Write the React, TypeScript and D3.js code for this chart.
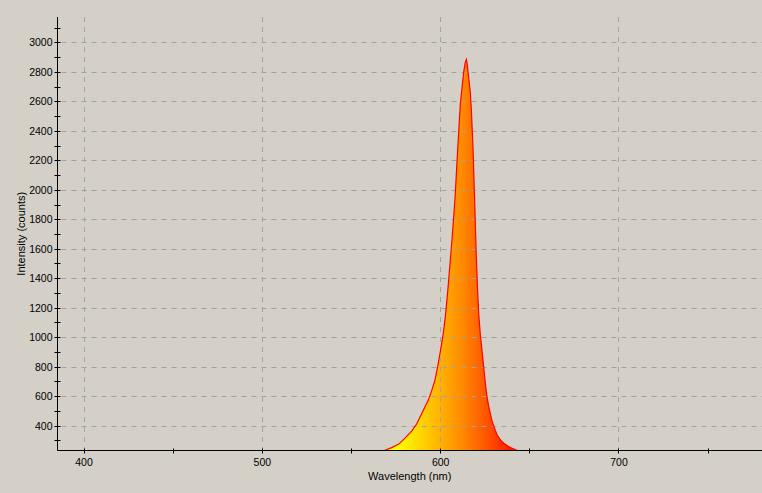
import React, { useEffect, useRef } from "react";
import * as d3 from "d3";

// spectrum (wavelength in nm, intensity in counts)
const wavelengths = [
  568.7, 572.8, 576.6, 580.3, 584.0, 586.8, 589.6, 593.4, 595.2, 597.1, 598.6,
  600.5, 601.8, 602.9, 603.9, 604.8, 605.7, 606.7, 607.6, 608.5, 609.3, 610.4,
  611.3, 612.3, 613.2, 614.1, 614.7, 615.1, 616.0, 616.9, 617.5, 618.4, 619.0,
  619.7, 620.3, 621.0, 621.6, 622.5, 623.5, 624.4, 625.3, 626.2, 627.2, 628.1,
  629.1, 630.0, 630.9, 631.9, 633.7, 635.6, 638.4, 641.2, 643.3,
];
const intensities = [
  230, 250, 272, 314, 362, 410, 480, 574, 635, 710, 800,
  930, 1030, 1139, 1265, 1390, 1524, 1672, 1818, 1975, 2160, 2395,
  2580, 2700, 2800, 2865, 2885, 2858, 2760, 2660, 2540, 2290, 2060,
  1780, 1530, 1320, 1160, 1020, 905, 800, 690, 600, 532, 482,
  430, 400, 368, 337, 303, 280, 257, 241, 230,
];

const yMajorTicks = d3.range(400, 3001, 200);
const yMinorTicks = d3.range(300, 3101, 200);
const xMajorTicks = [400, 500, 600, 700];
const xMinorTicks = [450, 550, 650, 750];

const App = () => {
  const svgRef = useRef<SVGSVGElement>(null);

  useEffect(() => {
    document.body.style.margin = "0";
    const width = 762;
    const height = 493;
    const left = 57.5;
    const right = 762;
    const top = 17;
    const bottom = 450.5;

    const svg = d3.select(svgRef.current);
    svg.selectAll("*").remove();
    svg.attr("width", width).attr("height", height).style("display", "block");

    svg.append("rect").attr("width", width).attr("height", height).attr("fill", "#d4d0c8");

    const x = d3.scaleLinear().domain([385.42, 780.47]).range([left, right]);
    const y = d3.scaleLinear().domain([230.3, 3173]).range([bottom, top]);

    const data = wavelengths.map((w, i) => ({ w, v: intensities[i] }));

    const defs = svg.append("defs");
    defs
      .append("clipPath")
      .attr("id", "plot-clip")
      .append("rect")
      .attr("x", left)
      .attr("y", top)
      .attr("width", right - left)
      .attr("height", bottom - top);

    const grad = defs
      .append("linearGradient")
      .attr("id", "spec-grad")
      .attr("gradientUnits", "userSpaceOnUse")
      .attr("x1", x(576))
      .attr("x2", x(642))
      .attr("y1", 0)
      .attr("y2", 0);
    grad.append("stop").attr("offset", "0%").attr("stop-color", "#ffff00");
    grad.append("stop").attr("offset", "55%").attr("stop-color", "#ff8a00");
    grad.append("stop").attr("offset", "100%").attr("stop-color", "#ff1400");

    const plot = svg.append("g").attr("clip-path", "url(#plot-clip)");

    const area = d3
      .area<{ w: number; v: number }>()
      .x((d) => x(d.w))
      .y0(bottom)
      .y1((d) => y(d.v));

    plot.append("path").datum(data).attr("d", area).attr("fill", "url(#spec-grad)");

    // dashed grid, drawn over the fill like the original
    plot
      .selectAll(".hgrid")
      .data(yMajorTicks)
      .join("line")
      .attr("x1", left)
      .attr("x2", right)
      .attr("y1", (d) => Math.round(y(d)) + 0.5)
      .attr("y2", (d) => Math.round(y(d)) + 0.5)
      .attr("stroke", "#a3a3a3")
      .attr("stroke-dasharray", "5 5")
      .attr("stroke-dashoffset", -4);

    plot
      .selectAll(".vgrid")
      .data(xMajorTicks)
      .join("line")
      .attr("x1", (d) => Math.round(x(d)) + 0.5)
      .attr("x2", (d) => Math.round(x(d)) + 0.5)
      .attr("y1", top)
      .attr("y2", bottom)
      .attr("stroke", "#a3a3a3")
      .attr("stroke-dasharray", "5 5");

    const line = d3
      .line<{ w: number; v: number }>()
      .x((d) => x(d.w))
      .y((d) => y(d.v));

    plot
      .append("path")
      .datum(data)
      .attr("d", line)
      .attr("fill", "none")
      .attr("stroke", "#ff0000")
      .attr("stroke-width", 1.2);

    // axes
    svg
      .append("line")
      .attr("x1", left)
      .attr("x2", left)
      .attr("y1", top)
      .attr("y2", bottom)
      .attr("stroke", "#000");
    svg
      .append("line")
      .attr("x1", left)
      .attr("x2", right)
      .attr("y1", bottom)
      .attr("y2", bottom)
      .attr("stroke", "#000");

    const allY = [...yMajorTicks, ...yMinorTicks];
    svg
      .selectAll(".ytick")
      .data(allY)
      .join("line")
      .attr("x1", left - 3)
      .attr("x2", left + 3)
      .attr("y1", (d) => Math.round(y(d)) + 0.5)
      .attr("y2", (d) => Math.round(y(d)) + 0.5)
      .attr("stroke", "#000");

    const allX = [...xMajorTicks, ...xMinorTicks];
    svg
      .selectAll(".xtick")
      .data(allX)
      .join("line")
      .attr("x1", (d) => Math.round(x(d)) + 0.5)
      .attr("x2", (d) => Math.round(x(d)) + 0.5)
      .attr("y1", bottom - 2)
      .attr("y2", bottom + 3)
      .attr("stroke", "#000");

    const font = "'Liberation Sans', Arial, sans-serif";

    svg
      .selectAll(".ylab")
      .data(yMajorTicks)
      .join("text")
      .attr("x", left - 5)
      .attr("y", (d) => y(d) + 4)
      .attr("text-anchor", "end")
      .attr("font-family", font)
      .attr("font-size", 10.5)
      .attr("fill", "#000")
      .text((d) => d);

    svg
      .selectAll(".xlab")
      .data(xMajorTicks)
      .join("text")
      .attr("x", (d) => x(d) + 0.5)
      .attr("y", 466)
      .attr("text-anchor", "middle")
      .attr("font-family", font)
      .attr("font-size", 10.5)
      .attr("fill", "#000")
      .text((d) => d);

    svg
      .append("text")
      .attr("x", (left + right) / 2)
      .attr("y", 480)
      .attr("text-anchor", "middle")
      .attr("font-family", font)
      .attr("font-size", 11)
      .attr("fill", "#000")
      .text("Wavelength (nm)");

    svg
      .append("text")
      .attr("transform", `translate(25,${(top + bottom) / 2}) rotate(-90)`)
      .attr("text-anchor", "middle")
      .attr("font-family", font)
      .attr("font-size", 11)
      .attr("fill", "#000")
      .text("Intensity (counts)");
  }, []);

  return <svg ref={svgRef}></svg>;
};

export default App;
